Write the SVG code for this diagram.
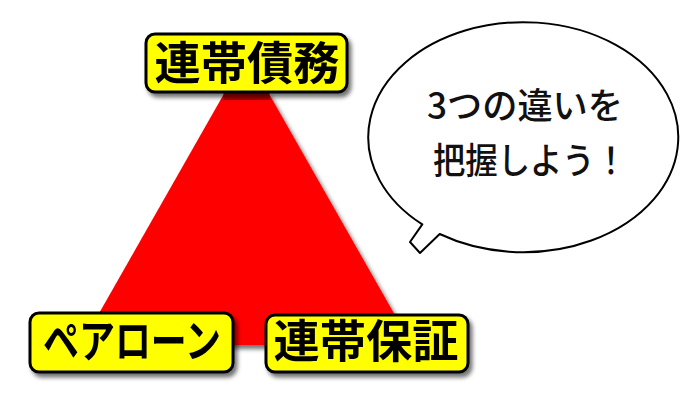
<svg xmlns="http://www.w3.org/2000/svg" width="700" height="400" viewBox="0 0 700 400">
<defs>
<filter id="sh" x="-10%" y="-10%" width="130%" height="140%">
<feDropShadow dx="3" dy="4" stdDeviation="2" flood-color="#000" flood-opacity="0.55"/>
</filter>
<style>
.box{fill:#ffff00;stroke:#000;stroke-width:3}
.lbl{font-family:"Noto Sans CJK JP",sans-serif;font-weight:bold;font-size:45px;fill:#000;text-anchor:middle}
.bub{font-family:"Noto Sans CJK JP",sans-serif;font-weight:500;font-size:36px;fill:#111;text-anchor:middle}
</style>
</defs>
<rect width="700" height="400" fill="#fff"/>
<g id="connectors">
<polygon points="225,92 268,92 412,345 81,345" fill="#ff0000" filter="url(#sh)"/>
<rect x="223" y="92" width="47" height="8" fill="#000" opacity="0.3"/>
</g>
<g id="node-rentai-saimu" filter="url(#sh)">
<rect class="box" x="146" y="34" width="201" height="58" rx="9"/>
<text class="lbl" x="247" y="80" textLength="185" lengthAdjust="spacingAndGlyphs">連帯債務</text>
</g>
<g id="node-pair-loan" filter="url(#sh)">
<rect class="box" x="30" y="313" width="203" height="59" rx="9"/>
<text class="lbl" x="132" y="358" textLength="178" lengthAdjust="spacingAndGlyphs">ペアローン</text>
</g>
<g id="node-rentai-hosho" filter="url(#sh)">
<rect class="box" x="266" y="315" width="202" height="57" rx="9"/>
<text class="lbl" x="366" y="358" textLength="185" lengthAdjust="spacingAndGlyphs">連帯保証</text>
</g>
<g id="node-bubble">
<path d="M422.3,224.4 A155,115 0 1 1 439.7,234 L420,253 L410,242 Z" fill="#fff" stroke="#000" stroke-width="2" stroke-linejoin="round"/>
<text class="bub" x="525" y="119" textLength="196" lengthAdjust="spacingAndGlyphs">3つの違いを</text>
<text class="bub" x="530" y="174" textLength="194" lengthAdjust="spacingAndGlyphs">把握しよう！</text>
</g>
</svg>
